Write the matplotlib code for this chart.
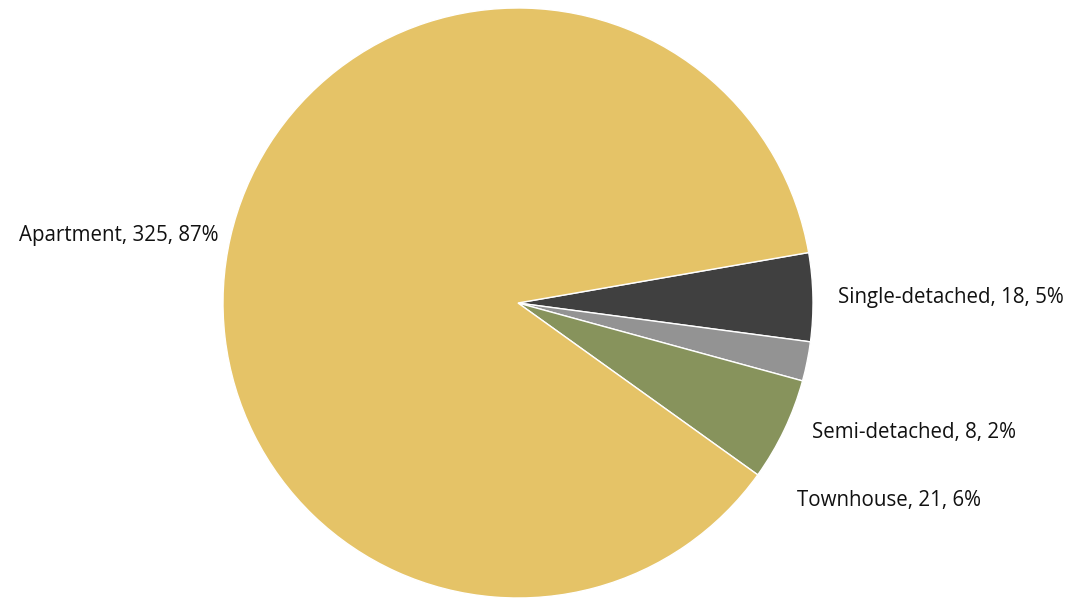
import matplotlib
matplotlib.use("Agg")
import matplotlib.pyplot as plt

categories = ["Single-detached", "Semi-detached", "Townhouse", "Apartment"]
values = [18, 8, 21, 325]
percents = ["5%", "2%", "6%", "87%"]
colors = ["#404040", "#939393", "#87935C", "#E5C367"]

W, H = 1065, 599
fig = plt.figure(figsize=(W / 100, H / 100), dpi=100)
cx, cy, r = 518, 296, 295
ax = fig.add_axes([(cx - r) / W, (cy - r) / H, 2 * r / W, 2 * r / H])
ax.pie(values, colors=colors, startangle=9.85, counterclock=False,
       wedgeprops=dict(edgecolor="white", linewidth=1.0), radius=1.0)
ax.set_xlim(-1, 1)
ax.set_ylim(-1, 1)
ax.set_aspect("equal")
ax.axis("off")

label_pos = {
    "Single-detached": (1.085, 0.017, "left"),
    "Semi-detached": (0.997, -0.44, "left"),
    "Townhouse": (0.946, -0.671, "left"),
    "Apartment": (-1.014, 0.23, "right"),
}
for cat, v, p in zip(categories, values, percents):
    x, y, ha = label_pos[cat]
    ax.text(x, y, f"{cat}, {v}, {p}", ha=ha, va="center", fontsize=14.8,
            family=["Open Sans", "DejaVu Sans"], color="#111111", clip_on=False)

fig.savefig("out.png", dpi=100)
